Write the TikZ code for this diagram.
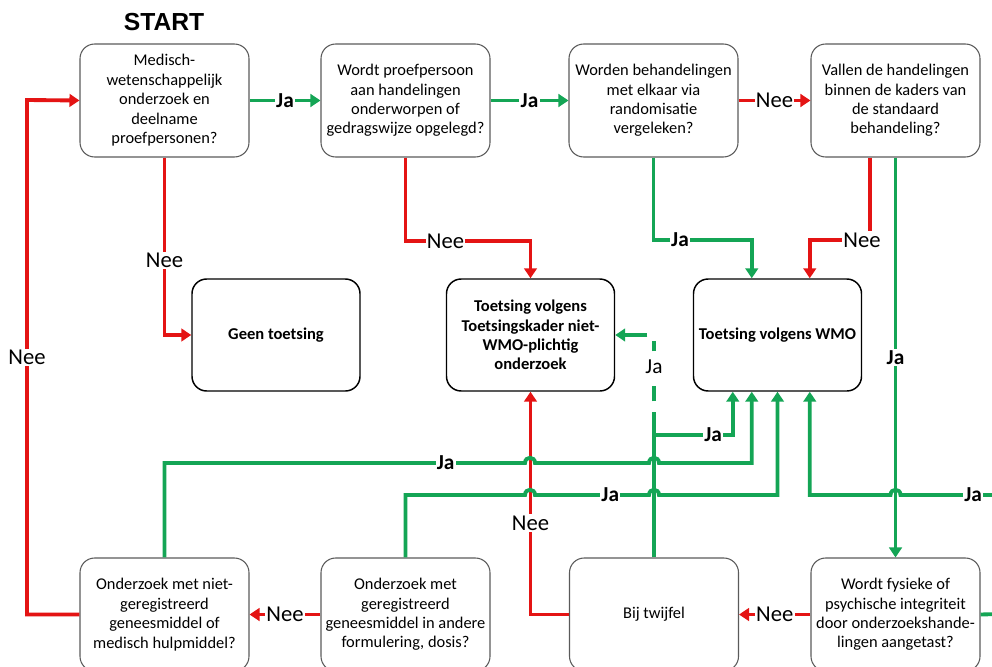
\documentclass[tikz,border=0pt]{standalone}
\usepackage{fontspec}
\setmainfont{Carlito}
\newfontfamily\startfont{Liberation Sans}
\usetikzlibrary{arrows.meta,calc}
\definecolor{grn}{RGB}{20,165,85}
\definecolor{rdd}{RGB}{228,20,20}
\definecolor{bord}{RGB}{90,90,90}
\begin{document}
\begin{tikzpicture}[x=0.75pt,y=-0.75pt,
  qbox/.style={draw=bord,line width=0.8pt,rounded corners=11pt,minimum width=126.75pt,minimum height=84.75pt,align=center,inner sep=1pt,font=\fontsize{12.3}{14.6}\selectfont},
  rbox/.style={draw=black,line width=1.1pt,rounded corners=11pt,minimum width=126pt,minimum height=84pt,align=center,inner sep=1pt,font=\fontsize{12.4}{14.4}\selectfont\bfseries},
  con/.style={line width=2.9pt,-{Triangle[length=7.5pt,width=9.5pt]}},
  gcon/.style={con,draw=grn,color=grn},
  rcon/.style={con,draw=rdd,color=rdd},
  jlbl/.style={fill=white,inner sep=1pt,text=black,font=\fontsize{16}{16}\selectfont\bfseries},
  nlbl/.style={fill=white,inner sep=1pt,text=black,font=\fontsize{17}{17}\selectfont}
]
\useasboundingbox (0,0) rectangle (992,667);
\clip (0,0) rectangle (992,667);

\node[font=\startfont\fontsize{18.5}{18.5}\selectfont\bfseries] (start) at (164,22) {START};

% top row
\node[qbox] (A) at (164.5,100.5) {Medisch-\\wetenschappelijk\\onderzoek en\\deelname\\proefpersonen?};
\node[qbox] (B) at (405.5,100.5) {Wordt proefpersoon\\aan handelingen\\onderworpen of\\gedragswijze opgelegd?};
\node[qbox] (C) at (653.5,100.5) {Worden behandelingen\\met elkaar via\\randomisatie\\vergeleken?};
\node[qbox] (D) at (895.5,100.5) {Vallen de handelingen\\binnen de kaders van\\de standaard\\behandeling?};

% middle row
\node[rbox] (geen) at (276,335) {Geen toetsing};
\node[rbox] (nw) at (530.5,335) {Toetsing volgens\\Toetsingskader niet-\\WMO-plichtig\\onderzoek};
\node[rbox] (wmo) at (777.5,335) {Toetsing volgens WMO};

% bottom row
\node[qbox] (E) at (164.5,614.5) {Onderzoek met niet-\\geregistreerd\\geneesmiddel of\\medisch hulpmiddel?};
\node[qbox] (F) at (405.5,614.5) {Onderzoek met\\geregistreerd\\geneesmiddel in andere\\formulering, dosis?};
\node[qbox] (G) at (654,614.5) {Bij twijfel};
\node[qbox] (H) at (895.5,614.5) {Wordt fysieke of\\psychische integriteit\\door onderzoekshande-\\lingen aangetast?};

% entry points on WMO
\coordinate (wt1) at ($(wmo.north west)+(59,0)$);
\coordinate (wt2) at ($(wmo.north west)+(117,0)$);
\coordinate (wb0) at ($(wmo.south west)+(40,0)$);
\coordinate (wb1) at ($(wmo.south west)+(59,0)$);
\coordinate (wb2) at (wmo.south);
\coordinate (wb3) at ($(wmo.south west)+(117,0)$);
\coordinate (dr) at ($(D.south)+(-25.5,0)$);
\coordinate (rout) at (1000,614);

% top horizontal
\draw[gcon] (A.east) -- node[jlbl]{Ja} (B.west);
\draw[gcon] (B.east) -- node[jlbl]{Ja} (C.west);
\draw[rcon] (C.east) -- node[nlbl]{Nee} (D.west);

% A -> geen
\draw[rcon] (A.south) -- node[nlbl,pos=0.58]{Nee} (A.south |- geen.west) -- (geen.west);
% B -> nw
\draw[rcon] (B.south) -- (B.south |- 0,241) -- node[nlbl,pos=0.32]{Nee} (nw.north |- 0,241) -- (nw.north);
% C -> wmo
\draw[gcon] (C.south) -- (C.south |- 0,240) -- node[jlbl,pos=0.27]{Ja} (wt1 |- 0,240) -- (wt1);
% D -> wmo (red)
\draw[rcon] (dr) -- (dr |- 0,240) -- (wt2 |- 0,240) -- (wt2);
\node[nlbl] (dlab) at (862,240) {Nee};
% D -> H
\draw[gcon] (D.south) -- node[jlbl,pos=0.5]{Ja} (H.north);

% bottom horizontals
\draw[rcon] (H.west) -- node[nlbl]{Nee} (G.east);
\draw[rcon] (F.west) -- node[nlbl]{Nee} (E.east);

% E -> A loop
\draw[rcon] (E.west) -- (E.west -| 27,0) -- node[nlbl,pos=0.5]{Nee} (27,100) -- (A.west);

% G -> nw (red)
\draw[rcon] (G.west) -- (nw.south |- G.west) -- node[nlbl,pos=0.41]{Nee} (nw.south);

% G -> nw (green, partly dashed)
\draw[gcon,dash pattern=on 108.75pt off 8.25pt on 11.25pt off 26.25pt on 7.5pt off 9.75pt on 60pt]
  (G.north) -- (G.north |- nw.east) -- (nw.east);
\node[jlbl,fill=none,font=\fontsize{16}{16}\selectfont] (gja) at (654,367) {Ja};
% G branch -> wmo
\coordinate (gb) at (G.north |- 0,435);
\draw[gcon] (gb) -- node[jlbl,pos=0.75]{Ja} (wb0 |- gb) -- (wb0);

% E -> wmo with hops
\draw[gcon] (E.north) -- (E.north |- 0,463) -- node[jlbl,pos=0.78]{Ja} (525,463)
  .. controls (525,456) and (535,456) .. (535,463) -- (649,463)
  .. controls (649,456) and (659,456) .. (659,463) -- (wb1 |- 0,463) -- (wb1);
% F -> wmo with hops
\draw[gcon] (F.north) -- (F.north |- 0,495) -- (525,495)
  .. controls (525,488) and (535,488) .. (535,495) -- node[jlbl,pos=0.66]{Ja} (649,495)
  .. controls (649,488) and (659,488) .. (659,495) -- (wb2 |- 0,495) -- (wb2);
% H -> wmo via right edge
\draw[gcon] (H.east) -- (rout) -- (rout |- 0,495) -- node[jlbl,pos=0.27]{Ja} (900.5,495)
  .. controls (900.5,488) and (890.5,488) .. (890.5,495) -- (wb3 |- 0,495) -- (wb3);
\end{tikzpicture}
\end{document}
